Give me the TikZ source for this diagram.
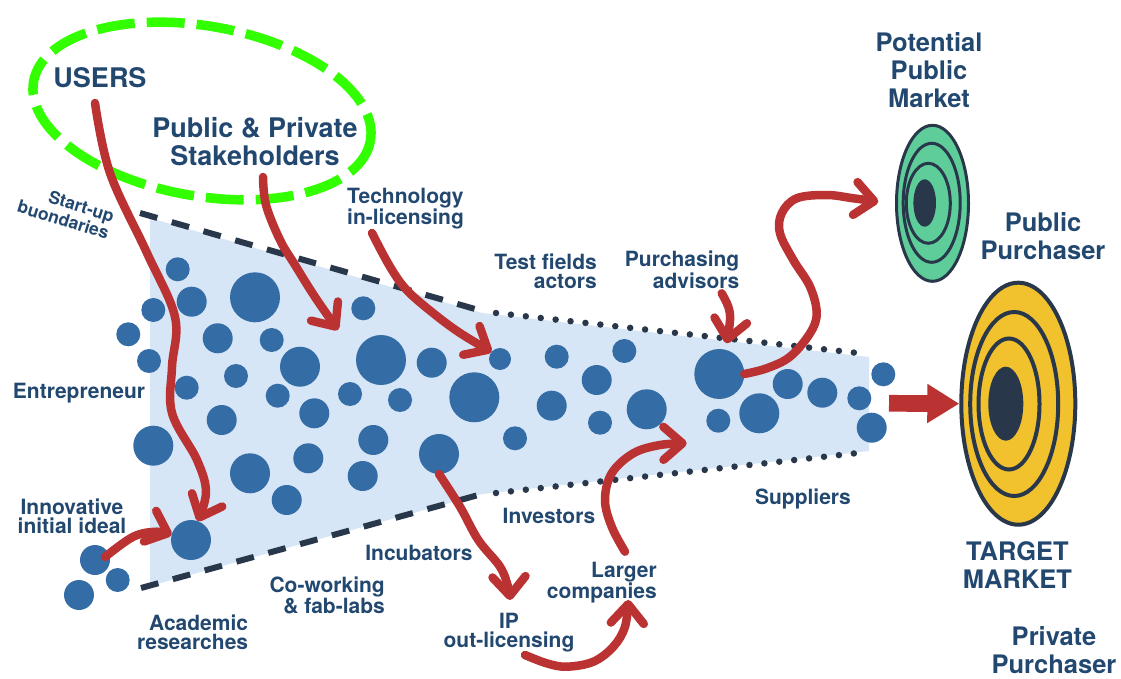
\documentclass[tikz,border=0pt]{standalone}
\usepackage{fontspec}
\setmainfont{TeX Gyre Heros}
\usetikzlibrary{arrows.meta,shapes.geometric}
\definecolor{txtblue}{RGB}{34,72,112}
\definecolor{dotblue}{RGB}{52,108,166}
\definecolor{funnelfill}{RGB}{214,230,246}
\definecolor{arrred}{RGB}{186,50,50}
\definecolor{edgedark}{RGB}{40,56,74}
\definecolor{limegr}{RGB}{50,255,0}
\definecolor{tgreen}{RGB}{94,205,154}
\definecolor{tyellow}{RGB}{242,193,46}
\begin{document}
\begin{tikzpicture}[x=1pt,y=-1pt,
  dot/.style={circle, fill=dotblue, inner sep=0pt, outer sep=0pt},
  lbl/.style={text=txtblue, font=\bfseries\fontsize{21}{19}\selectfont, inner sep=0pt},
  biglbl/.style={text=txtblue, font=\bfseries\fontsize{25.5}{28}\selectfont, inner sep=0pt},
  hugelbl/.style={text=txtblue, font=\bfseries\fontsize{27}{28}\selectfont, inner sep=0pt},
  redarrow/.style={draw=arrred, line width=8.5pt, line cap=round, line join=round,
     -{Straight Barb[length=19pt,width=33pt,round]}},
  dashline/.style={draw=edgedark, line width=6pt, dash pattern=on 18pt off 15pt},
  dotline/.style={draw=edgedark, line width=6.5pt, line cap=round, dash pattern=on 0pt off 15pt},
  ring/.style={draw=edgedark, line width=#1},
  blockarrow/.style={draw=arrred, line width=16.7pt, -{Triangle[length=32pt,width=37pt]}}
]
\useasboundingbox (0,0) rectangle (1121,679);

% funnel
\fill[funnelfill] (150,218) -- (482,313) -- (869,357) -- (869,451) -- (482,494) -- (150,586) -- cycle;
\draw[dashline] (140,213) -- (482,311);
\draw[dotline] (496,313) -- (858,353);
\draw[dashline] (141,588) -- (482,494);
\draw[dotline] (496,493) -- (858,453);

% circles
\foreach \n/\x/\y/\r in {
1/177.7/269.3/12, 2/191.7/301.7/15, 3/153.3/310/12, 4/128.3/334.3/12, 5/255/297.3/25,
6/217.7/338.3/15, 7/271.7/340/12, 8/149/361/12, 9/300/366.7/20, 10/236/376/12,
11/363.3/308.3/12, 12/381/360/25, 13/431.7/362.7/15, 14/500/359/11, 15/186.7/387.7/12,
16/277.7/395.7/12, 17/350/394/12, 18/400/400/12, 19/474.3/397.3/25, 20/314.3/413.3/15,
21/221.7/420/15, 22/153.3/445.7/20, 23/373.3/440/15, 24/515/438.3/12, 25/439/454/20,
26/308.3/458.3/15, 27/250/473.3/20, 28/362.7/476/15, 29/286.7/500/15, 30/191/540/20,
31/556.7/356.7/12, 32/624.3/351/12, 33/596.7/380/15, 34/551.7/405.7/15, 35/600/422.7/12,
36/646.7/409.3/20, 37/719.3/374/25, 38/787.7/384/15, 39/822.3/392.7/15, 40/859.3/398.3/12,
41/883.3/374.3/12, 42/871.7/427.7/15, 43/759.3/413.3/20, 44/718.3/420.7/12,
45/95/560/15, 46/117.7/580/12, 47/79/595/15}
  \node[dot, minimum size=2*\r] (c\n) at (\x,\y) {};

% targets
\node[ellipse, draw=edgedark, line width=3pt, fill=tgreen, inner sep=0pt, outer sep=0pt,
      minimum width=72, minimum height=156] (pubtarget) at (932.5,203.3) {};
\draw[ring=3pt] (931.7,202.8) ellipse [x radius=28.5, y radius=59.5];
\draw[ring=3pt] (928.3,203.3) ellipse [x radius=22, y radius=40];
\fill[edgedark] (924.7,203) ellipse [x radius=11.3, y radius=23.7];

\node[ellipse, draw=edgedark, line width=4pt, fill=tyellow, inner sep=0pt, outer sep=0pt,
      minimum width=114, minimum height=242] (mktarget) at (1018.3,403.7) {};
\draw[ring=4pt] (1014.2,404) ellipse [x radius=44, y radius=92];
\draw[ring=4pt] (1009,404) ellipse [x radius=30.5, y radius=65.5];
\fill[edgedark] (1005.8,403.7) ellipse [x radius=17.5, y radius=37];

% green stakeholder ellipse
\draw[limegr, line width=9.5pt, dash pattern=on 38pt off 12pt, rotate around={-10:(202,111)}]
  (202,111) ellipse [x radius=171, y radius=85];

% labels
\node[hugelbl, anchor=north] (users) at (100,67.6) {USERS};
\node[hugelbl, align=center, anchor=north] (stake) at (255,117.6) {Public \& Private\\Stakeholders};
\node[lbl, font=\bfseries\fontsize{17.5}{18}\selectfont, align=right, rotate=-17] (startup) at (66,211) {Start-up\\buondaries};
\node[lbl, align=left, anchor=north west] (tech) at (347,187.6) {Technology\\in-licensing};
\node[lbl, align=right, anchor=north east] (test) at (597,254) {Test fields\\actors};
\node[lbl, align=right, anchor=north east] (purch) at (739.5,251) {Purchasing\\advisors};
\node[biglbl, align=center, anchor=north] (ppm) at (929,32.5) {Potential\\Public\\Market};
\node[biglbl, align=center, anchor=north] (pubp) at (1043,212) {Public\\Purchaser};
\node[biglbl, align=center, anchor=north] (tgt) at (1017.5,541) {TARGET\\MARKET};
\node[biglbl, align=center, anchor=north] (privp) at (1054,626) {Private\\Purchaser};
\node[lbl, anchor=north] (entre) at (79,383.3) {Entrepreneur};
\node[lbl, align=center, anchor=north] (innov) at (72,498.3) {Innovative\\initial ideal};
\node[lbl, align=right, anchor=north east] (acad) at (248.3,615) {Academic\\researches};
\node[lbl, align=right, anchor=north east] (cowork) at (385,576.7) {Co-working\\\& fab-labs};
\node[lbl, anchor=north] (incub) at (419,545) {Incubators};
\node[lbl, anchor=north] (invest) at (549,508.3) {Investors};
\node[lbl, align=right, anchor=north east] (larger) at (657,561.7) {Larger\\companies};
\node[lbl, align=center, anchor=north] (ip) at (509,613.3) {IP\\out-licensing};
\node[lbl, anchor=north] (suppl) at (803,488.3) {Suppliers};

% arrow end points
\coordinate (a1s) at (95,103);
\coordinate (a2s) at (263,177);
\coordinate (a2e) at (338,330);
\coordinate (a3s) at (372,233);
\coordinate (a4s) at (105,557);
\coordinate (a5e) at (510,600);
\coordinate (a6s) at (525,655);
\coordinate (a6e) at (628.3,600);
\coordinate (a7s) at (625,551.7);
\coordinate (a7e) at (686.7,443.3);
\coordinate (a8s) at (721.7,293.3);
\coordinate (a8e) at (726.7,343.3);
\coordinate (a9e) at (878.3,201.7);
\coordinate (bas) at (889,403.3);

% red arrows
\draw[redarrow] plot[smooth, tension=0.6] coordinates {(a1s) (110,173) (147,253) (175,317) (172,367) (172,413) (197,460) (206,492) (c30.70)};
\draw[redarrow] plot[smooth, tension=0.6] coordinates {(a2s) (266,205) (280,240) (295,265) (315,297) (a2e)};
\draw[redarrow] plot[smooth, tension=0.6] coordinates {(a3s) (390,266.7) (406.7,290) (433,313) (460,333) (c14.140)};
\draw[redarrow] plot[smooth, tension=0.6] coordinates {(a4s) (133.3,536.7) (156.7,531.7) (c30.165)};
\draw[redarrow] plot[smooth, tension=0.6] coordinates {(c25.south) (460,506.7) (478.3,540) (500,566.7) (508,586.7) (a5e)};
\draw[redarrow] plot[smooth, tension=0.6] coordinates {(a6s) (546.7,663.3) (566.7,666.7) (593.3,661.7) (613.3,646.7) (625,626.7) (a6e)};
\draw[redarrow] plot[smooth, tension=0.6] coordinates {(a7s) (611.7,526.7) (605,500) (611.7,473.3) (633.3,453.3) (660,445) (a7e)};
\draw[redarrow] plot[smooth, tension=0.6] coordinates {(a8s) (728.3,306.7) (730,320) (a8e)};
\draw[redarrow] plot[smooth, tension=0.6] coordinates {(c37.east) (766.7,368.3) (790,356.7) (810,333.3) (816.7,313.3) (810,286.7) (793.3,260) (780,233.3) (781.7,213.3) (796.7,198.3) (826.7,195) (853.3,198.3) (a9e)};

% block arrow
\draw[blockarrow, shorten >=2pt] (bas) -- (mktarget.west);
\end{tikzpicture}
\end{document}
